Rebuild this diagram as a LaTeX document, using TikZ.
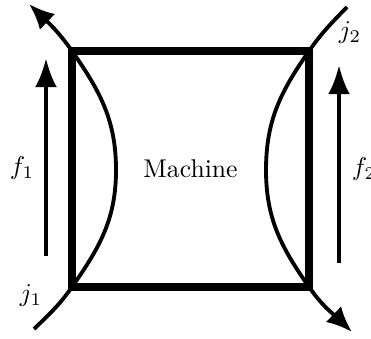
\documentclass[tikz,border=0pt]{standalone}
\usepackage{amsmath}
\usetikzlibrary{arrows.meta}

\begin{document}
\begin{tikzpicture}[
                x=0.137mm, y=0.137mm,
                machine/.style={draw=black, line width=3.1pt, rectangle, minimum width=32.47mm, minimum height=32.33mm, inner sep=0pt, outer sep=0pt},
                flow/.style={draw=black, line width=1.5pt, -{Latex[length=3.5mm, width=3mm]}},
                force/.style={draw=black, line width=1.6pt, -{Latex[length=4mm, width=3mm]}},
                lbl/.style={inner sep=0pt}
            ]
            \useasboundingbox (0,0) rectangle (371,338);

            \node[machine] (m) at (190.5,169) {Machine};

            % junction curves
            \coordinate (j1s) at (34,9);
            \coordinate (j1t) at (29,334);
            \coordinate (lb) at (116,168);
            \coordinate (j2s) at (347,331);
            \coordinate (j2t) at (352,6);
            \coordinate (rb) at (266,168);

            \draw[flow] (j1s) to[out=44,in=-125] (m.south west)
                to[out=55,in=-90] (lb) to[out=90,in=-55] (m.north west)
                to[out=125,in=-44] (j1t);
            \draw[flow] (j2s) to[out=-134,in=55] (m.north east)
                to[out=-125,in=90] (rb) to[out=-90,in=125] (m.south east)
                to[out=-55,in=136] (j2t);

            % forces
            \coordinate (f1s) at (46,82);
            \coordinate (f1t) at (46,280);
            \coordinate (f2s) at (339,75);
            \coordinate (f2t) at (339,273);
            \draw[force] (f1s) -- (f1t);
            \draw[force] (f2s) -- (f2t);

            \node[lbl] (f1) at (22,170) {$f_1$};
            \node[lbl] (f2) at (364,169) {$f_2$};
            \node[lbl] (j1) at (31,42) {$j_1$};
            \node[lbl] (j2) at (350,305) {$j_2$};
        \end{tikzpicture}
\end{document}
